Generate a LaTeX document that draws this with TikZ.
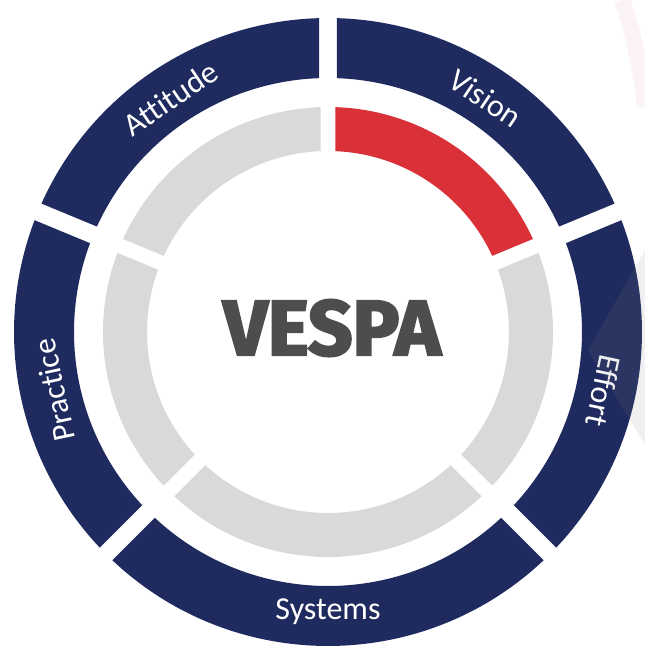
\documentclass[tikz,border=0pt]{standalone}
\usepackage{fontspec}
\newfontfamily\labelfont{Carlito}[Ligatures=CommonOff]
\newfontfamily\vespafont{Fira Sans}[FakeBold=3]
\definecolor{ringnavy}{HTML}{1F2B5E}
\definecolor{ringred}{HTML}{DA3138}
\definecolor{ringgrey}{HTML}{D9D9D9}
\definecolor{vespagrey}{HTML}{4D4D4F}
\definecolor{pinkfaint}{HTML}{FCF3F4}
% one piece of a ring: colour, from, to, inner r, outer r, half gap
\newcommand{\ringpart}[6]{%
  \fill[#1] ({#2+asin(#6/#5)}:#5) arc[start angle={#2+asin(#6/#5)}, end angle={#3-asin(#6/#5)}, radius=#5]
    -- ({#3-asin(#6/#4)}:#4) arc[start angle={#3-asin(#6/#4)}, end angle={#2+asin(#6/#4)}, radius=#4] -- cycle;}
\begin{document}
\begin{tikzpicture}[x=1pt,y=1pt,
    ringlabel/.style={text=white,inner sep=0pt,font=\labelfont\fontsize{32}{32}\selectfont}]
            \useasboundingbox (-328,-314) rectangle (317,332);
            \draw[pinkfaint,line width=16] (294,332) .. controls (306,300) and (313,262) .. (317,225);
            % outer ring
            \ringpart{ringnavy}{22.5}{90}{254}{314}{9}
            \ringpart{ringnavy}{90}{157.5}{254}{314}{9}
            \ringpart{ringnavy}{157.5}{225}{254}{314}{9}
            \ringpart{ringnavy}{225}{315}{254}{314}{9}
            \ringpart{ringnavy}{-45}{22.5}{254}{314}{9}
            % inner ring
            \ringpart{ringred}{22.5}{90}{181}{225}{7.5}
            \ringpart{ringgrey}{90}{157.5}{181}{225}{7.5}
            \ringpart{ringgrey}{157.5}{225}{181}{225}{7.5}
            \ringpart{ringgrey}{225}{315}{181}{225}{7.5}
            \ringpart{ringgrey}{-45}{22.5}{181}{225}{7.5}
            \node[ringlabel,rotate=34] (attitude) at (124:282) {Attitude};
            \node[ringlabel,rotate=-34] (vision) at (56:282) {Vision};
            \node[ringlabel,rotate=-102] (effort) at (-12:282) {Effort};
            \node[ringlabel] (systems) at (-90:280) {Systems};
            \node[ringlabel,rotate=102] (practice) at (192:280) {Practice};
            \node[text=vespagrey,font=\vespafont\bfseries\fontsize{78}{78}\selectfont] (vespa) at (4,4) {VESPA};
            \fill[gray,opacity=0.12] (317,82) -- (260,-18) -- (317,-113) -- cycle;
        \end{tikzpicture}
\end{document}
